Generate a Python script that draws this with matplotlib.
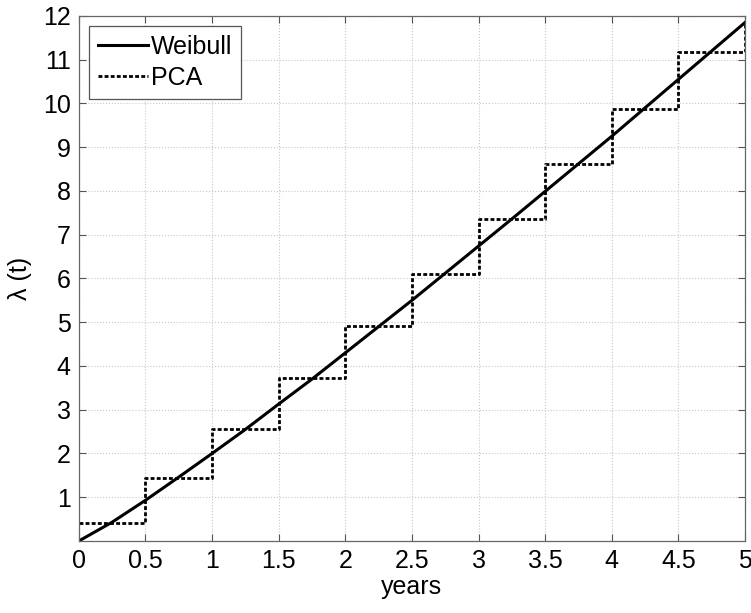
import numpy as np
import matplotlib.pyplot as plt

plt.rcParams['font.family'] = ['Liberation Sans', 'DejaVu Sans']

# Weibull intensity, read at quarter-year steps
t_weibull = [0, 0.25, 0.5, 0.75, 1.0, 1.25, 1.5, 1.75, 2.0, 2.25, 2.5,
             2.75, 3.0, 3.25, 3.5, 3.75, 4.0, 4.25, 4.5, 4.75, 5.0]
lam_weibull = [0, 0.43, 0.93, 1.46, 2.0, 2.55, 3.13, 3.70, 4.30, 4.90, 5.50,
               6.12, 6.74, 7.36, 7.99, 8.62, 9.25, 9.90, 10.55, 11.20, 11.85]

# piecewise constant approximation, one level per half year
pca_edges = [0, 0.5, 1.0, 1.5, 2.0, 2.5, 3.0, 3.5, 4.0, 4.5, 5.0]
pca_levels = [0.42, 1.45, 2.56, 3.72, 4.91, 6.10, 7.35, 8.62, 9.88, 11.17]
pca_end = 11.85

xs = np.repeat(pca_edges, 2)[1:]
ys = np.append(np.repeat(pca_levels, 2), pca_end)

fig = plt.figure(figsize=(7.51, 6.13), dpi=100)
ax = fig.add_axes([0.105, 0.1175, 0.887, 0.8565])

ax.plot(t_weibull, lam_weibull, color='black', lw=2.2, label='Weibull')
ax.plot(xs, ys, color='black', lw=2.0, linestyle=(0, (1.4, 0.8)), label='PCA')

ax.set_xlim(0, 5)
ax.set_ylim(0, 12)
ax.set_xticks(np.arange(0, 5.01, 0.5))
ax.set_xticklabels(['0', '0.5', '1', '1.5', '2', '2.5', '3', '3.5', '4', '4.5', '5'])
ax.set_yticks(range(1, 13))
ax.tick_params(direction='in', top=True, right=True, labelsize=18, length=5,
               color='#555555', pad=6)
for s in ax.spines.values():
    s.set_color('#666666')
    s.set_linewidth(0.9)
ax.grid(True, linestyle=':', color='#c8c8c8', linewidth=0.8)

ax.set_xlabel('years', fontsize=18, labelpad=1)
ax.set_ylabel('λ (t)', fontsize=18, labelpad=8)

leg = ax.legend(loc='upper left', fontsize=18, handlelength=2.0,
                handletextpad=0.15, borderaxespad=0.4, fancybox=False,
                framealpha=1, borderpad=0.35, labelspacing=0.3)
leg.get_frame().set_edgecolor('#555555')
leg.get_frame().set_linewidth(0.9)

fig.savefig('out.png', dpi=100)
